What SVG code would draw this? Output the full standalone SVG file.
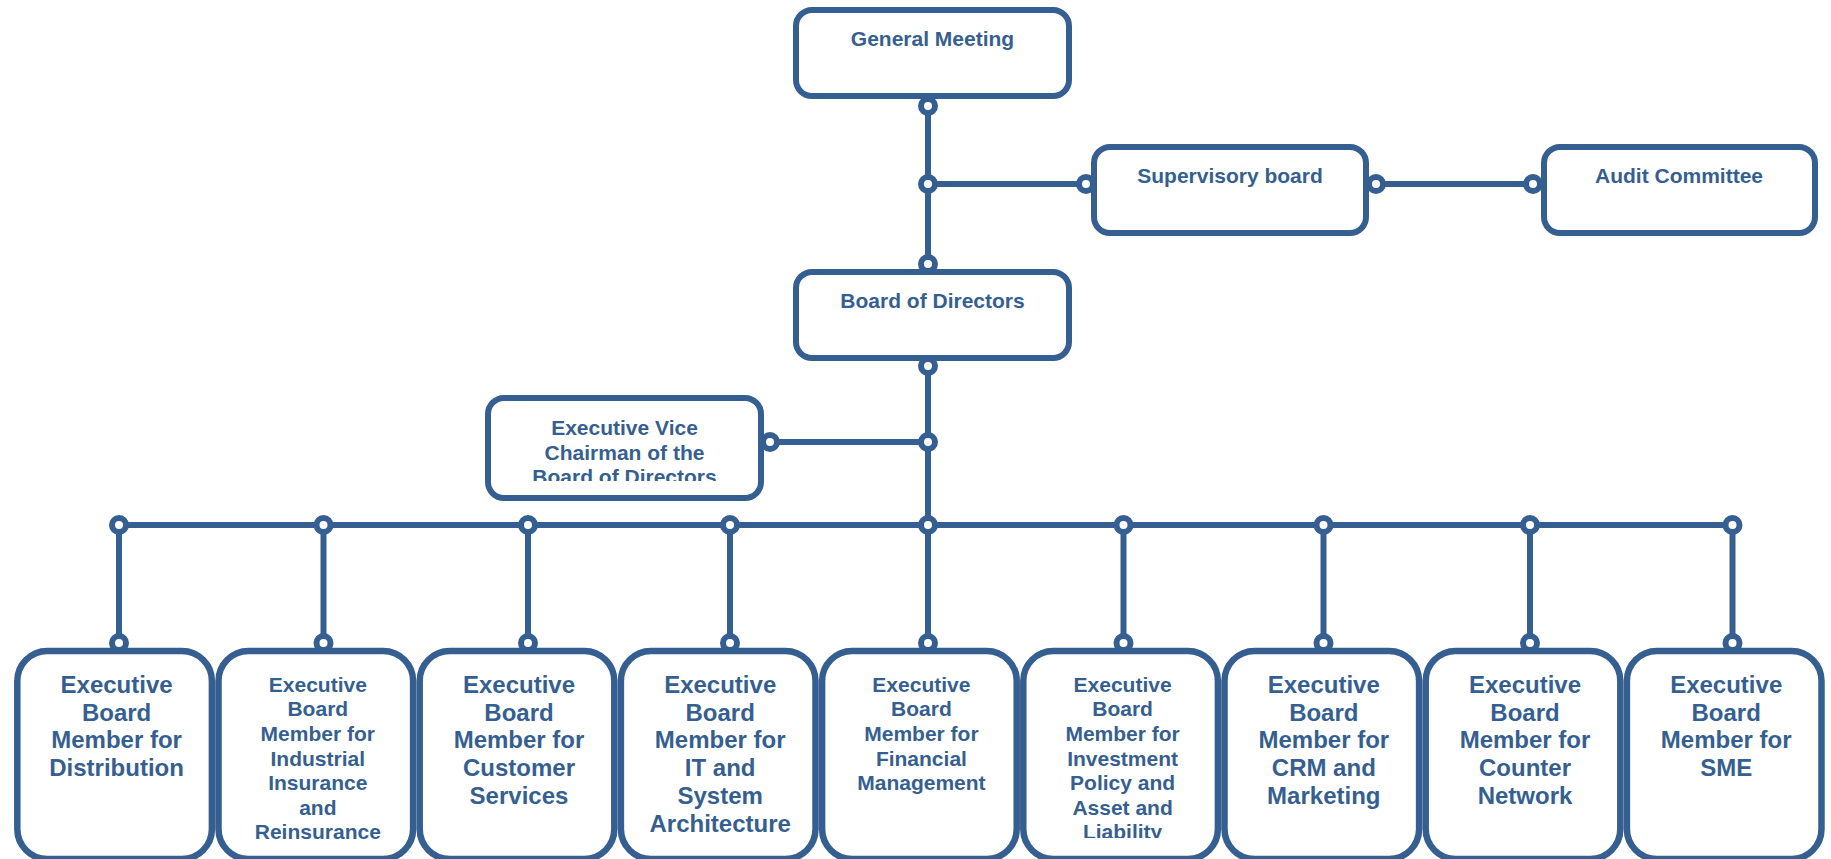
<svg xmlns="http://www.w3.org/2000/svg" width="1831" height="859" viewBox="0 0 1831 859">
<style>
.box{fill:#ffffff;stroke:#365F91;stroke-width:6}
.bbox{fill:#ffffff;stroke:#365F91;stroke-width:6.5}
.t{font-family:"Liberation Sans",Arial,sans-serif;font-weight:bold;fill:#365F91;text-anchor:middle}
.t21{font-size:21px}
.t24{font-size:24px}
.ln{stroke:#365F91;stroke-width:6;fill:none}
.dot{fill:#ffffff;stroke:#365F91;stroke-width:6}
</style>
<defs>
<clipPath id="clipVC"><rect x="480" y="390" width="290" height="91"/></clipPath>
<clipPath id="clipInv"><rect x="1020" y="640" width="200" height="198"/></clipPath>
</defs>
<rect width="1831" height="859" fill="#ffffff"/>

<g id="general-meeting">
<rect class="box" x="796" y="10" width="273" height="86" rx="16"/>
<text class="t t21" x="932.5" y="46">General Meeting</text>
</g>
<g id="supervisory-board">
<rect class="box" x="1094" y="147" width="272" height="86" rx="16"/>
<text class="t t21" x="1230" y="183">Supervisory board</text>
</g>
<g id="audit-committee">
<rect class="box" x="1544" y="147" width="271" height="86" rx="16"/>
<text class="t t21" x="1679" y="183">Audit Committee</text>
</g>
<g id="board-of-directors">
<rect class="box" x="796" y="272" width="273" height="86" rx="16"/>
<text class="t t21" x="932.5" y="308">Board of Directors</text>
</g>
<g id="executive-vice-chairman">
<rect class="box" x="488" y="398" width="273" height="100" rx="16"/>
<g clip-path="url(#clipVC)">
<text class="t t21" x="624.5" y="435">Executive Vice</text>
<text class="t t21" x="624.5" y="459.5">Chairman of the</text>
<text class="t t21" x="624.5" y="484">Board of Directors</text>
</g>
</g>

<g id="ebm-distribution">
<rect class="bbox" x="17.3" y="651" width="194.6" height="208" rx="30"/>
<text class="t t24" x="116.6" y="693">Executive</text>
<text class="t t24" x="116.6" y="720.7">Board</text>
<text class="t t24" x="116.6" y="748.4">Member for</text>
<text class="t t24" x="116.6" y="776.1">Distribution</text>
</g>
<g id="ebm-industrial">
<rect class="bbox" x="218.5" y="651" width="194.6" height="208" rx="30"/>
<text class="t t21" x="317.8" y="691.7">Executive</text>
<text class="t t21" x="317.8" y="716.3">Board</text>
<text class="t t21" x="317.8" y="740.9">Member for</text>
<text class="t t21" x="317.8" y="765.5">Industrial</text>
<text class="t t21" x="317.8" y="790.1">Insurance</text>
<text class="t t21" x="317.8" y="814.7">and</text>
<text class="t t21" x="317.8" y="839.3">Reinsurance</text>
</g>
<g id="ebm-customer-services">
<rect class="bbox" x="419.7" y="651" width="194.6" height="208" rx="30"/>
<text class="t t24" x="519" y="693">Executive</text>
<text class="t t24" x="519" y="720.7">Board</text>
<text class="t t24" x="519" y="748.4">Member for</text>
<text class="t t24" x="519" y="776.1">Customer</text>
<text class="t t24" x="519" y="803.8">Services</text>
</g>
<g id="ebm-it">
<rect class="bbox" x="620.9" y="651" width="194.6" height="208" rx="30"/>
<text class="t t24" x="720.2" y="693">Executive</text>
<text class="t t24" x="720.2" y="720.7">Board</text>
<text class="t t24" x="720.2" y="748.4">Member for</text>
<text class="t t24" x="720.2" y="776.1">IT and</text>
<text class="t t24" x="720.2" y="803.8">System</text>
<text class="t t24" x="720.2" y="831.5">Architecture</text>
</g>
<g id="ebm-financial">
<rect class="bbox" x="822.1" y="651" width="194.6" height="208" rx="30"/>
<text class="t t21" x="921.4" y="691.7">Executive</text>
<text class="t t21" x="921.4" y="716.3">Board</text>
<text class="t t21" x="921.4" y="740.9">Member for</text>
<text class="t t21" x="921.4" y="765.5">Financial</text>
<text class="t t21" x="921.4" y="790.1">Management</text>
</g>
<g id="ebm-investment">
<rect class="bbox" x="1023.3" y="651" width="194.6" height="208" rx="30"/>
<g clip-path="url(#clipInv)">
<text class="t t21" x="1122.6" y="691.7">Executive</text>
<text class="t t21" x="1122.6" y="716.3">Board</text>
<text class="t t21" x="1122.6" y="740.9">Member for</text>
<text class="t t21" x="1122.6" y="765.5">Investment</text>
<text class="t t21" x="1122.6" y="790.1">Policy and</text>
<text class="t t21" x="1122.6" y="814.7">Asset and</text>
<text class="t t21" x="1122.6" y="839.3">Liability</text>
</g>
</g>
<g id="ebm-crm">
<rect class="bbox" x="1224.5" y="651" width="194.6" height="208" rx="30"/>
<text class="t t24" x="1323.8" y="693">Executive</text>
<text class="t t24" x="1323.8" y="720.7">Board</text>
<text class="t t24" x="1323.8" y="748.4">Member for</text>
<text class="t t24" x="1323.8" y="776.1">CRM and</text>
<text class="t t24" x="1323.8" y="803.8">Marketing</text>
</g>
<g id="ebm-counter-network">
<rect class="bbox" x="1425.7" y="651" width="194.6" height="208" rx="30"/>
<text class="t t24" x="1525" y="693">Executive</text>
<text class="t t24" x="1525" y="720.7">Board</text>
<text class="t t24" x="1525" y="748.4">Member for</text>
<text class="t t24" x="1525" y="776.1">Counter</text>
<text class="t t24" x="1525" y="803.8">Network</text>
</g>
<g id="ebm-sme">
<rect class="bbox" x="1626.9" y="651" width="194.6" height="208" rx="30"/>
<text class="t t24" x="1726.2" y="693">Executive</text>
<text class="t t24" x="1726.2" y="720.7">Board</text>
<text class="t t24" x="1726.2" y="748.4">Member for</text>
<text class="t t24" x="1726.2" y="776.1">SME</text>
</g>

<g id="connectors">
<path class="ln" d="M928 106V264M928 366V525M928 184H1086M1376 184H1533M770 442H928M119 525H1732.5"/>
<path class="ln" d="M119 525V643M323.5 525V643M528 525V643M730 525V643M928 525V643M1123.5 525V643M1323.5 525V643M1530 525V643M1732.5 525V643"/>
<circle class="dot" cx="928" cy="106" r="7"/>
<circle class="dot" cx="928" cy="184" r="7"/>
<circle class="dot" cx="1086" cy="184" r="7"/>
<circle class="dot" cx="1376" cy="184" r="7"/>
<circle class="dot" cx="1533" cy="184" r="7"/>
<circle class="dot" cx="928" cy="264" r="7"/>
<circle class="dot" cx="928" cy="366" r="7"/>
<circle class="dot" cx="928" cy="442" r="7"/>
<circle class="dot" cx="770" cy="442" r="7"/>
<circle class="dot" cx="119" cy="525" r="7"/>
<circle class="dot" cx="323.5" cy="525" r="7"/>
<circle class="dot" cx="528" cy="525" r="7"/>
<circle class="dot" cx="730" cy="525" r="7"/>
<circle class="dot" cx="928" cy="525" r="7"/>
<circle class="dot" cx="1123.5" cy="525" r="7"/>
<circle class="dot" cx="1323.5" cy="525" r="7"/>
<circle class="dot" cx="1530" cy="525" r="7"/>
<circle class="dot" cx="1732.5" cy="525" r="7"/>
<circle class="dot" cx="119" cy="643" r="7"/>
<circle class="dot" cx="323.5" cy="643" r="7"/>
<circle class="dot" cx="528" cy="643" r="7"/>
<circle class="dot" cx="730" cy="643" r="7"/>
<circle class="dot" cx="928" cy="643" r="7"/>
<circle class="dot" cx="1123.5" cy="643" r="7"/>
<circle class="dot" cx="1323.5" cy="643" r="7"/>
<circle class="dot" cx="1530" cy="643" r="7"/>
<circle class="dot" cx="1732.5" cy="643" r="7"/>
</g>
</svg>
